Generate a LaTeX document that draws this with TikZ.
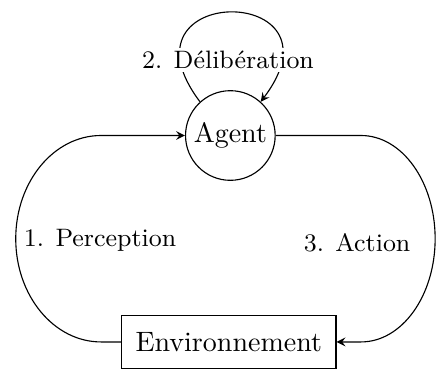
\documentclass[tikz,border=0pt]{standalone}
\usepackage{tikz}
\usetikzlibrary{arrows}

\begin{document}
\begin{tikzpicture}
\tikzset{cercle/.style={draw, circle, minimum size=32pt, inner sep=1pt}}
\tikzset{boite/.style={draw, rectangle, minimum height=19pt, inner xsep=5pt}}
\tikzset{etiq/.style={font=\small}}
\tikzset{fleche/.style={->, >=stealth}}
\useasboundingbox (0, 0) rectangle (5.47, 4.64);
\node[cercle] (agent) at (2.89, 2.94) {Agent};
\node[boite] (env) at (2.87, 0.35) {Environnement};
\draw[fleche] (env.west) -- ++(-0.25, 0) arc[start angle=270, end angle=90, x radius=1.07, y radius=1.295] -- (agent.west);
\draw[fleche] (agent.east) -- ++(1.07, 0) arc[start angle=90, end angle=-90, x radius=0.93, y radius=1.295] -- (env.east);
\draw[fleche] (agent.132) to[out=127, in=53, looseness=6.3] (agent.48);
\node[etiq, fill=white, inner sep=1pt] (delib) at (2.86, 3.89) {2. Délibération};
\node[etiq] (perc) at (1.255, 1.63) {1. Perception};
\node[etiq] (action) at (4.48, 1.59) {3. Action};
\end{tikzpicture}
\end{document}
